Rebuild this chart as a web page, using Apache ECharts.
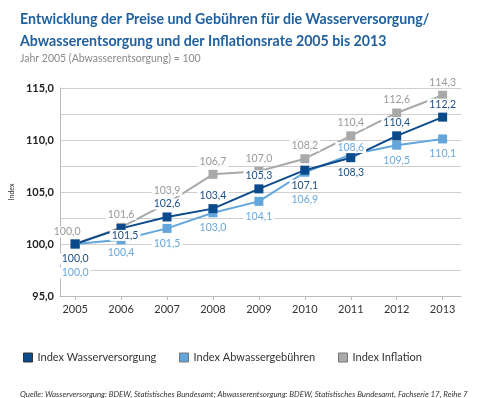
<!DOCTYPE html>
<html>
<head>
<meta charset="utf-8">
<script src="https://cdn.jsdelivr.net/npm/echarts@6/dist/echarts.min.js"></script>
<style>
  html, body { margin: 0; padding: 0; background: #fff; }
  #chart { width: 482px; height: 398px; }
</style>
</head>
<body>
<div id="chart"></div>
<script>
// Werte
const years = [2005, 2006, 2007, 2008, 2009, 2010, 2011, 2012, 2013];
const wasser = [100.0, 101.5, 102.6, 103.4, 105.3, 107.1, 108.3, 110.4, 112.2];
const abwasser = [100.0, 100.4, 101.5, 103.0, 104.1, 106.9, 108.6, 109.5, 110.1];
const inflation = [100.0, 101.6, 103.9, 106.7, 107.0, 108.2, 110.4, 112.6, 114.3];
const yTicks = [95, 100, 105, 110, 115];

const C_DARK = "#0b4a8b";
const C_LIGHT = "#62a6dc";
const C_GRAY = "#a9a9a9";
const FONT = "Lato, 'Open Sans', sans-serif";

// label placement per point: [position, dx, dy]
const inflationLbl = [
  ["top", -8, 1], ["top", 0, 0], ["top", 0, 0], ["top", 0, 0], ["top", 0, 0],
  ["top", 0, 0], ["top", 0, 0], ["top", 0, 0], ["top", 0, 0]
];
const wasserLbl = [
  ["bottom", 0, 2], ["bottom", 4, -6], ["top", 0, 0], ["top", 0, 0], ["top", 0, 0],
  ["bottom", 0, 2], ["bottom", 0, 2], ["top", 0, 0], ["top", 0, 0]
];
const abwasserLbl = [
  ["bottom", 0, 16], ["bottom", 0, 0], ["bottom", 0, 2], ["bottom", 0, 2], ["bottom", 0, 2],
  ["bottom", 0, 14], ["top", 0, 6], ["bottom", 0, 2], ["bottom", 0, 2]
];

const fmt = v => v.toFixed(1).replace(".", ",");

function makeData(vals, place) {
  return vals.map((v, i) => ({
    value: [years[i], v],
    label: { position: place[i][0], offset: [place[i][1], place[i][2]] }
  }));
}

function lineSeries(name, vals, color, place, labelColor) {
  return {
    name: name,
    type: "line",
    symbol: "rect",
    symbolSize: 9,
    data: makeData(vals, place),
    lineStyle: { color: color, width: 2 },
    itemStyle: { color: color },
    label: {
      show: true,
      formatter: p => fmt(p.value[1]),
      color: labelColor,
      fontFamily: FONT,
      fontSize: 10.5,
      backgroundColor: "#fff",
      padding: [0, 2],
      distance: 3
    },
    emphasis: { disabled: true }
  };
}

function legendItem(left, name, color, border) {
  return {
    left: left, top: 347,
    itemWidth: 9, itemHeight: 9,
    icon: "rect",
    selectedMode: false,
    textStyle: { color: "#333", fontSize: 11, fontFamily: FONT },
    data: [{ name: name, itemStyle: { color: color, borderColor: border, borderWidth: 1 } }]
  };
}

const chart = echarts.init(document.getElementById("chart"));
chart.setOption({
  backgroundColor: "#fff",
  animation: false,
  textStyle: { fontFamily: FONT },
  title: [
    {
      text: "Entwicklung der Preise und Gebühren für die Wasserversorgung/\nAbwasserentsorgung und der Inflationsrate 2005 bis 2013",
      left: 15, top: 3,
      textStyle: { color: "#21619f", fontSize: 14.2, fontWeight: "bold", lineHeight: 22, fontFamily: FONT }
    },
    {
      text: "Jahr 2005 (Abwasserentsorgung) = 100",
      left: 15, top: 48,
      textStyle: { color: "#8a8a8a", fontSize: 10.5, fontWeight: "normal", fontFamily: FONT }
    },
    {
      text: "Quelle: Wasserversorgung: BDEW, Statistisches Bundesamt; Abwasserentsorgung: BDEW, Statistisches Bundesamt, Fachserie 17, Reihe 7",
      left: 15, top: 385,
      textStyle: { color: "#333", fontSize: 7.9, fontStyle: "italic", fontWeight: "normal", fontFamily: FONT }
    }
  ],
  legend: [
    legendItem(18, "Index Wasserversorgung", C_DARK, "#333"),
    legendItem(174, "Index Abwassergebühren", C_LIGHT, "#777"),
    legendItem(333, "Index Inflation", C_GRAY, "#777")
  ],
  grid: { left: 43, right: 21, top: 88, bottom: 102 },
  xAxis: {
    type: "value",
    min: 2004.67, max: 2013.4,
    axisLine: { show: true, lineStyle: { color: "#bbb" } },
    axisTick: { show: true, customValues: years, length: 4, lineStyle: { color: "#bbb" } },
    axisLabel: {
      customValues: years,
      color: "#333", fontSize: 11, margin: 8,
      formatter: v => String(v)
    },
    splitLine: { show: false }
  },
  yAxis: {
    type: "value",
    min: 95, max: 115, interval: 2.5,
    name: "Index",
    nameLocation: "middle",
    nameGap: 33,
    nameTextStyle: { color: "#333", fontSize: 7 },
    axisLine: { show: true, lineStyle: { color: "#bbb" } },
    axisTick: { show: false },
    axisLabel: {
      color: "#222", fontSize: 11, fontWeight: "bold", margin: 6,
      formatter: v => (yTicks.indexOf(v) >= 0 ? fmt(v) : "")
    },
    splitLine: { lineStyle: { color: "#cfcfcf", width: 1 } }
  },
  series: [
    lineSeries("Index Inflation", inflation, C_GRAY, inflationLbl, "#9a9a9a"),
    lineSeries("Index Abwassergebühren", abwasser, C_LIGHT, abwasserLbl, "#6aa8dc"),
    lineSeries("Index Wasserversorgung", wasser, C_DARK, wasserLbl, "#1d4f85")
  ]
});
</script>
</body>
</html>
